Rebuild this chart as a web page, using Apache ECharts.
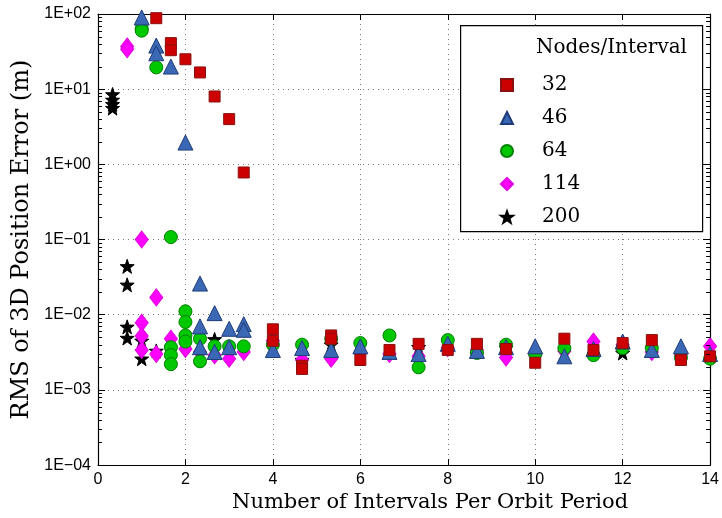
<!DOCTYPE html>
<html><head><meta charset="utf-8">
<script src="https://cdn.jsdelivr.net/npm/echarts@6/dist/echarts.min.js"></script>
<style>html,body{margin:0;padding:0;background:#fff}#c{width:722px;height:518px}</style>
</head><body><div id="c"></div>
<script>
// ---- data ----
const xTicks = [0, 2, 4, 6, 8, 10, 12, 14];
const yTicks = [1e-4, 1e-3, 1e-2, 1e-1, 1, 10, 100];
const seriesNames = ['32', '46', '64', '114', '200'];
const legendTitle = 'Nodes/Interval';
const xAxisTitle = 'Number of Intervals Per Orbit Period';
const yAxisTitle = 'RMS of 3D Position Error (m)';

const nodes32 = [
  [1.333, 88], [1.667, 41], [1.667, 33], [2, 25], [2.333, 16.7], [2.667, 8.0], [3, 4.0], [3.333, 0.78],
  [4, 0.0064], [4, 0.0045], [4.667, 0.0021], [4.667, 0.0019], [5.333, 0.0053], [5.333, 0.0048],
  [6, 0.0025], [6.667, 0.0034], [7.333, 0.0041], [8, 0.0034], [8.667, 0.0041], [9.333, 0.0035],
  [10, 0.0023], [10.667, 0.0048], [11.333, 0.0034], [12, 0.0042], [12.667, 0.0046], [13.333, 0.0025], [14, 0.0028]
];
const nodes46 = [
  [1, 90], [1.333, 38], [1.333, 30], [1.667, 20], [2, 1.95], [2.333, 0.026], [2.333, 0.0070], [2.333, 0.0037],
  [2.667, 0.0105], [2.667, 0.0032], [3, 0.0065], [3, 0.0037], [3.333, 0.0075], [3.333, 0.0063],
  [4, 0.0034], [4.667, 0.0036], [5.333, 0.0034], [6, 0.0038], [6.667, 0.0032], [7.333, 0.0030],
  [8, 0.0041], [8.667, 0.0033], [9.333, 0.0037], [10, 0.0038], [10.667, 0.0028], [11.333, 0.0035],
  [12, 0.0044], [12.667, 0.0034], [13.333, 0.0038], [14, 0.0030]
];
const nodes64 = [
  [1, 64], [1, 60], [1.333, 19.5], [1.667, 0.108], [1.667, 0.0037], [1.667, 0.0029], [1.667, 0.0022],
  [2, 0.0111], [2, 0.0080], [2, 0.0053], [2, 0.0044], [2.333, 0.0048], [2.333, 0.0024],
  [2.667, 0.0038], [3, 0.0038], [3.333, 0.0038], [4, 0.0040], [4.667, 0.0040], [5.333, 0.0048],
  [6, 0.0042], [6.667, 0.0053], [7.333, 0.0020], [8, 0.0046], [8.667, 0.0031], [9.333, 0.0040],
  [10, 0.0030], [10.667, 0.0036], [11.333, 0.0029], [12, 0.0036], [12.667, 0.0036], [13.333, 0.0027], [14, 0.0026]
];
const nodes114 = [
  [0.667, 37], [0.667, 34], [1, 0.100], [1.333, 0.0170], [1, 0.0078], [1, 0.0052], [1, 0.0034],
  [1.333, 0.0030], [1.667, 0.0048], [2, 0.0035], [2.333, 0.0032], [2.667, 0.0029], [3, 0.0026],
  [3.333, 0.0032], [4, 0.0045], [4.667, 0.0025], [5.333, 0.0026], [6, 0.0031], [6.667, 0.0030],
  [7.333, 0.0028], [8, 0.0036], [8.667, 0.0034], [9.333, 0.0027], [10, 0.0029], [10.667, 0.0033],
  [11.333, 0.0044], [12, 0.0040], [12.667, 0.0032], [13.333, 0.0030], [14, 0.0038]
];
const nodes200 = [
  [0.333, 8.5], [0.333, 7.2], [0.333, 6.3], [0.333, 5.6], [0.667, 0.044], [0.667, 0.025],
  [0.667, 0.0069], [0.667, 0.0049], [1, 0.0045], [1, 0.0026], [1.333, 0.0033], [2.667, 0.0047],
  [4.667, 0.0025], [5.333, 0.0040], [7.333, 0.0037], [9.333, 0.0036], [12, 0.0031]
];
const minorMultipliers = [2, 3, 4, 5, 6, 7, 8, 9];

// ---- chart ----
const chart = echarts.init(document.getElementById('c'), null, {renderer: 'canvas'});
const serif = 'DejaVu Serif';
const sans = 'Liberation Sans';
function expLabel(v) {
  const e = Math.round(Math.log10(v));
  const s = e < 0 ? '\u2212' : '+';
  const a = Math.abs(e);
  return '1E' + s + (a < 10 ? '0' + a : '' + a);
}
const minorTickValues = [];
for (let i = 0; i < yTicks.length - 1; i++) {
  minorMultipliers.forEach(k => minorTickValues.push(k * yTicks[i]));
}
const gridLine = {show: true, lineStyle: {color: '#777', type: [1, 4], width: 1}};
const styles = {
  '32':  {symbol: 'rect', size: 11, color: '#cc0000', border: '#8a1010'},
  '46':  {symbol: 'triangle', size: 15, color: '#3a68b4', border: '#1e3c78'},
  '64':  {symbol: 'circle', size: 13, color: '#00c800', border: '#008000'},
  '114': {symbol: 'diamond', size: [13, 17], color: '#ff00ff', border: '#e000e0'},
  '200': {symbol: 'path://M0,-10 L2.35,-3.24 L9.51,-3.09 L3.8,1.24 L5.88,8.09 L0,4 L-5.88,8.09 L-3.8,1.24 L-9.51,-3.09 L-2.35,-3.24 Z', size: 14, color: '#000000', border: '#000000'}
};
const dataMap = {'32': nodes32, '46': nodes46, '64': nodes64, '114': nodes114, '200': nodes200};
const drawOrder = ['200', '114', '64', '46', '32'];

const series = [];
drawOrder.forEach(n => {
  const st = styles[n];
  series.push({
    name: n, type: 'scatter', data: dataMap[n], symbol: st.symbol, symbolSize: st.size,
    itemStyle: {color: st.color, borderColor: st.border, borderWidth: 1, opacity: 1},
    z: 3
  });
});
series.push({
  name: 'minorTicks', type: 'custom', coordinateSystem: 'cartesian2d', silent: true, z: 8,
  data: minorTickValues.map(v => [xTicks[0], v]),
  encode: {x: 0, y: 1},
  renderItem: function (params, api) {
    const cs = params.coordSys;
    const p = api.coord([xTicks[0], api.value(1)]);
    const y = Math.round(p[1]) + 0.5;
    return {type: 'group', children: [
      {type: 'line', shape: {x1: cs.x, y1: y, x2: cs.x + 4, y2: y}, style: {stroke: '#000', lineWidth: 1}},
      {type: 'line', shape: {x1: cs.x + cs.width, y1: y, x2: cs.x + cs.width - 4, y2: y}, style: {stroke: '#000', lineWidth: 1}}
    ]};
  }
});

chart.setOption({
  animation: false,
  backgroundColor: '#fff',
  grid: {left: 98, right: 8, top: 14, bottom: 50, containLabel: false},
  xAxis: [{
    type: 'value', min: xTicks[0], max: xTicks[xTicks.length - 1], interval: 2,
    axisLine: {show: true, onZero: false, lineStyle: {color: '#000', width: 1.2}},
    axisTick: {show: true, inside: true, length: 6, lineStyle: {color: '#000'}},
    axisLabel: {color: '#000', fontFamily: sans, fontSize: 16, margin: 6},
    splitLine: gridLine,
    name: xAxisTitle, nameLocation: 'middle', nameGap: 26,
    nameTextStyle: {fontFamily: serif, fontSize: 21, color: '#000', padding: [0, 0, 0, 52]}
  }, {
    type: 'value', position: 'top', min: xTicks[0], max: xTicks[xTicks.length - 1], interval: 2,
    axisLine: {show: true, onZero: false, lineStyle: {color: '#000', width: 1.2}},
    axisTick: {show: true, inside: true, length: 6, lineStyle: {color: '#000'}},
    axisLabel: {show: false}, splitLine: {show: false}
  }],
  yAxis: [{
    type: 'log', logBase: 10, min: yTicks[0], max: yTicks[yTicks.length - 1],
    axisLine: {show: true, onZero: false, lineStyle: {color: '#000', width: 1.2}},
    axisTick: {show: true, inside: true, length: 7, lineStyle: {color: '#000'}},
    axisLabel: {color: '#000', fontFamily: sans, fontSize: 16, margin: 7, formatter: expLabel},
    splitLine: gridLine,
    name: yAxisTitle, nameLocation: 'middle', nameGap: 62,
    nameTextStyle: {fontFamily: serif, fontSize: 24, color: '#000'}
  }, {
    type: 'log', logBase: 10, min: yTicks[0], max: yTicks[yTicks.length - 1], position: 'right',
    axisLine: {show: true, onZero: false, lineStyle: {color: '#000', width: 1.2}},
    axisTick: {show: true, inside: true, length: 7, lineStyle: {color: '#000'}},
    axisLabel: {show: false}, splitLine: {show: false}
  }],
  legend: {
    data: seriesNames, orient: 'vertical', left: 495, top: 70, z: 20,
    itemWidth: 12, itemHeight: 12, itemGap: 13,
    textStyle: {fontFamily: serif, fontSize: 20, color: '#000', padding: [0, 0, 0, 24]},
    selectedMode: false
  },
  graphic: [
    {type: 'rect', left: 460, top: 25, z: 2, shape: {width: 242, height: 206},
     style: {fill: '#fff', stroke: '#000', lineWidth: 1.2}},
    {type: 'text', left: 536, top: 38, z: 21,
     style: {text: legendTitle, font: '20px "DejaVu Serif"', fill: '#000'}}
  ],
  series: series
});
</script></body></html>
